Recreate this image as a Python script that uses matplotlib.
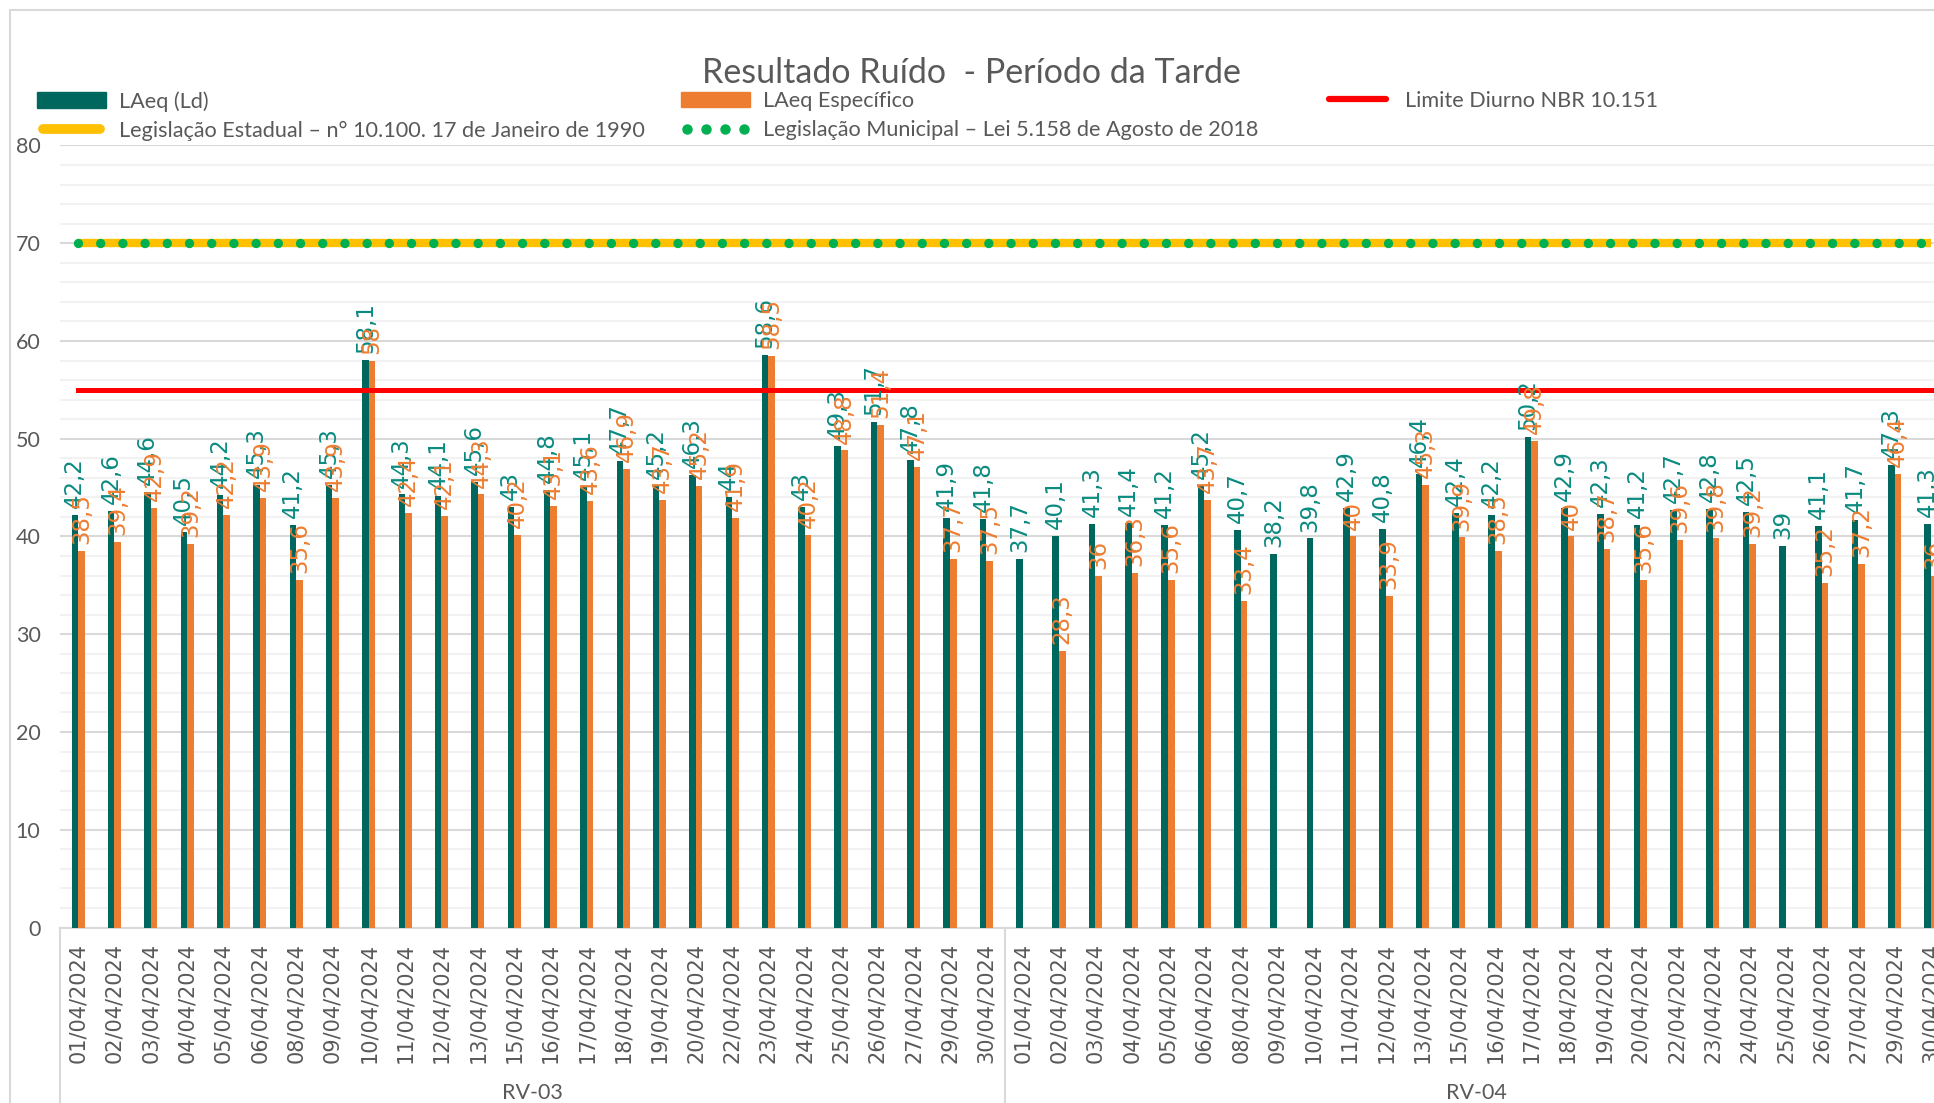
import numpy as np
import matplotlib
matplotlib.use("Agg")
import matplotlib.pyplot as plt
import matplotlib.transforms as mtransforms
from matplotlib.lines import Line2D
from matplotlib.patches import Patch, Rectangle

plt.rcParams['font.family'] = ['Lato', 'DejaVu Sans']

# datas das medições (mesmas para os dois pontos)
datas = ['01/04/2024', '02/04/2024', '03/04/2024', '04/04/2024', '05/04/2024',
         '06/04/2024', '08/04/2024', '09/04/2024', '10/04/2024', '11/04/2024',
         '12/04/2024', '13/04/2024', '15/04/2024', '16/04/2024', '17/04/2024',
         '18/04/2024', '19/04/2024', '20/04/2024', '22/04/2024', '23/04/2024',
         '24/04/2024', '25/04/2024', '26/04/2024', '27/04/2024', '29/04/2024',
         '30/04/2024']
pontos = ['RV-03', 'RV-04']

laeq_rv03 = [42.2, 42.6, 44.6, 40.5, 44.2, 45.3, 41.2, 45.3, 58.1, 44.3, 44.1, 45.6, 43,
             44.8, 45.1, 47.7, 45.2, 46.3, 44, 58.6, 43, 49.3, 51.7, 47.8, 41.9, 41.8]
espec_rv03 = [38.5, 39.4, 42.9, 39.2, 42.2, 43.9, 35.6, 43.9, 58, 42.4, 42.1, 44.3, 40.2,
              43.1, 43.6, 46.9, 43.7, 45.2, 41.9, 58.5, 40.2, 48.8, 51.4, 47.1, 37.7, 37.5]
laeq_rv04 = [37.7, 40.1, 41.3, 41.4, 41.2, 45.2, 40.7, 38.2, 39.8, 42.9, 40.8, 46.4, 42.4,
             42.2, 50.2, 42.9, 42.3, 41.2, 42.7, 42.8, 42.5, 39, 41.1, 41.7, 47.3, 41.3]
espec_rv04 = [None, 28.3, 36, 36.3, 35.6, 43.7, 33.4, None, None, 40, 33.9, 45.3, 39.9,
              38.5, 49.8, 40, 38.7, 35.6, 39.6, 39.8, 39.2, None, 35.2, 37.2, 46.4, 36]

limite_nbr = 55
leg_estadual = 70
leg_municipal = 70

laeq = np.array(laeq_rv03 + laeq_rv04, dtype=float)
espec = np.array([np.nan if v is None else v for v in espec_rv03 + espec_rv04], dtype=float)
labels_x = datas + datas
n = len(labels_x)
x = np.arange(n)

verde = '#00675F'
laranja = '#ED7D31'
cinza = '#595959'

fig = plt.figure(figsize=(19.34, 11.03), dpi=100)
ax = fig.add_axes([0.031, 0.1591, 0.9768, 0.709])

w = 0.18
ax.bar(x - w / 2, laeq, w, color=verde, zorder=3)
ax.bar(x + w / 2, espec, w, color=laranja, zorder=3)

ax.plot(x, [limite_nbr] * n, color='#FF0000', lw=3.6, zorder=4)
ax.plot(x, [leg_estadual] * n, color='#FFC000', lw=6, zorder=4, solid_capstyle='butt')
ax.plot(x, [leg_municipal] * n, color='#00B050', lw=6.8, zorder=5,
        linestyle=(0, (0.001, 2.35)), dash_capstyle='round')


def fmt(v):
    return f"{v:g}".replace('.', ',')


for xi, v in zip(x, laeq):
    ax.annotate(fmt(v), (xi - w / 2, v), xytext=(0, 5), textcoords='offset points',
                rotation=90, ha='center', va='bottom', fontsize=16.5,
                color='#0A8A80', family='DejaVu Sans', zorder=6)
for xi, v in zip(x, espec):
    if np.isnan(v):
        continue
    ax.annotate(fmt(v), (xi + w / 2, v), xytext=(0, 5), textcoords='offset points',
                rotation=90, ha='center', va='bottom', fontsize=16.5,
                color=laranja, family='DejaVu Sans', zorder=6)

ax.set_xlim(-0.5, n - 0.5)
ax.set_ylim(0, 80)
ax.set_yticks(np.arange(0, 81, 10))
ax.set_yticks(np.arange(0, 81, 2), minor=True)
ax.grid(axis='y', which='major', color='#D9D9D9', lw=1.5, zorder=0)
ax.grid(axis='y', which='minor', color='#F2F2F2', lw=1.5, zorder=0)
ax.set_xticks(x)
ax.set_xticklabels(labels_x, rotation=90, fontsize=15, color=cinza, family='DejaVu Sans')
ax.tick_params(axis='x', length=0, pad=11)
ax.tick_params(axis='y', which='both', length=0, labelsize=15.5, labelcolor=cinza, pad=14)
for s in ['top', 'right', 'left']:
    ax.spines[s].set_visible(False)
ax.spines['bottom'].set_color('#D9D9D9')
ax.spines['bottom'].set_linewidth(1.5)

# eixo de categorias em dois níveis
trans = mtransforms.blended_transform_factory(ax.transData, fig.transFigure)
for xs in [-0.5, 25.5, 51.5]:
    ax.plot([xs, xs], [0.1591, 0], transform=trans, color='#D9D9D9', lw=1.5, clip_on=False)
for i, p in enumerate(pontos):
    ax.text(12.5 + 26 * i, 0.009, p, transform=trans, ha='center', va='center',
            fontsize=15.5, color=cinza)

fig.text(0.5025, 0.934, 'Resultado Ruído  - Período da Tarde', ha='center', va='center',
         fontsize=24.5, color=cinza)

# borda da área do gráfico
fig.patches.append(Rectangle((0.005, -0.1), 1.1, 1.091, transform=fig.transFigure,
                             fill=False, edgecolor='#D9D9D9', lw=1.5))

h_laeq = Patch(color=verde)
h_espec = Patch(color=laranja)
h_lim = Line2D([], [], color='#FF0000', lw=4.5, solid_capstyle='round')
h_est = Line2D([], [], color='#FFC000', lw=7, solid_capstyle='round')
h_mun = Line2D([], [], ls='none', marker='o', color='#00B050', markersize=6.5)

cols = [
    (0.0191, [h_laeq, h_est], ['LAeq (Ld)', 'Legislação Estadual – n° 10.100. 17 de Janeiro de 1990']),
    (0.352, [h_espec, h_mun], ['LAeq Específico', 'Legislação Municipal – Lei 5.158 de Agosto de 2018']),
    (0.684, [h_lim], ['Limite Diurno NBR 10.151']),
]
for xl, hs, ls in cols:
    lg = fig.legend(hs, ls, loc='upper left', bbox_to_anchor=(xl, 0.9175), frameon=False,
                    fontsize=15.6, labelcolor=cinza, handlelength=3.2, handletextpad=0.6,
                    labelspacing=0.42, borderpad=0, borderaxespad=0, numpoints=4)

fig.savefig('out.png', dpi=100)
